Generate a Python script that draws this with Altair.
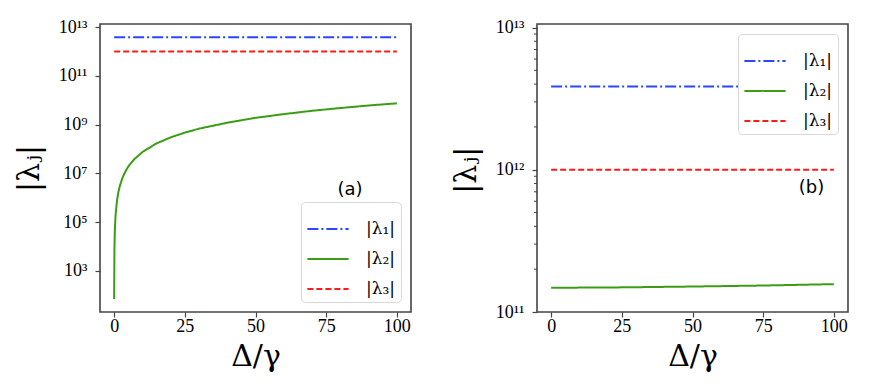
import altair as alt
import pandas as pd

# ---------------- data ----------------
series_names = ["|λ₁|", "|λ₂|", "|λ₃|"]
series_colors = ["#2a46ff", "#3a9d14", "#ff1a1a"]
series_dashes = [[11, 3, 2, 3], [1, 0], [6, 3]]

# panel (a)
a_flat_x = [0, 100]
a_lam1 = [3.9e12, 3.9e12]
a_lam3 = [1.0e12, 1.0e12]
a_lam2_x = [0, 0.1, 0.25, 0.5, 1, 1.5, 2, 3, 4, 5, 7, 10, 15, 20, 25, 30,
            40, 50, 60, 70, 80, 90, 100]
a_lam2 = [70, 7.6e3, 4.7e4, 1.9e5, 7.5e5, 1.7e6, 3.0e6, 6.8e6, 1.2e7, 1.9e7,
          3.7e7, 7.5e7, 1.7e8, 3.0e8, 4.7e8, 6.8e8, 1.2e9, 1.9e9, 2.7e9,
          3.7e9, 4.8e9, 6.1e9, 7.5e9]

# panel (b)
b_flat_x = [0, 100]
b_lam1 = [3.85e12, 3.85e12]
b_lam3 = [1.0e12, 1.0e12]
b_lam2_x = [0, 25, 50, 75, 100]
b_lam2 = [1.48e11, 1.49e11, 1.51e11, 1.535e11, 1.57e11]

x_ticks = [0, 25, 50, 75, 100]
a_y_ticks = [1e3, 1e5, 1e7, 1e9, 1e11, 1e13]
b_y_ticks = [1e11, 1e12, 1e13]
b_minor_ticks = [2e11, 3e11, 4e11, 5e11, 6e11, 7e11, 8e11, 9e11,
                 2e12, 3e12, 4e12, 5e12, 6e12, 7e12, 8e12, 9e12]
sup = {1: "¹", 3: "³", 5: "⁵", 7: "⁷", 9: "⁹", 11: "¹¹", 12: "¹²", 13: "¹³"}

ann_a = {"x": [83.4], "y": [2.0e6], "t": ["(a)"]}
ann_b = {"x": [92.1], "y": [7.47e11], "t": ["(b)"]}


def frame(x1, y1, x2, y2, x3, y3):
    rows = []
    for xx, yy in zip(x1, y1):
        rows.append({"x": xx, "y": yy, "s": series_names[0], "o": 0})
    for xx, yy in zip(x2, y2):
        rows.append({"x": xx, "y": yy, "s": series_names[1], "o": 1})
    for xx, yy in zip(x3, y3):
        rows.append({"x": xx, "y": yy, "s": series_names[2], "o": 2})
    return pd.DataFrame(rows)


df_a = frame(a_flat_x, a_lam1, a_lam2_x, a_lam2, a_flat_x, a_lam3)
df_b = frame(b_flat_x, b_lam1, b_lam2_x, b_lam2, b_flat_x, b_lam3)


def label_expr(exps):
    e = "''"
    for k in exps:
        e = f"(abs(log(datum.value)/LN10 - {k}) < 0.01 ? '10{sup[k]}' : {e})"
    return e


SERIF = "Liberation Serif"
TITLE_FONT = "DejaVu Serif"

x_axis = alt.Axis(values=x_ticks, title="Δ/γ", titleFontSize=30,
                  titleFont=TITLE_FONT, titleFontWeight="normal",
                  titlePadding=6, labelPadding=0, labelFlush=False)


def panel(df, ydomain, yrange, yticks, exps, ann, legend_orient, w, h):
    xs = alt.Scale(domain=[-5, 105], nice=False, zero=False)
    ys = alt.Scale(type="log", domain=ydomain, range=yrange, nice=False)
    y_axis = alt.Axis(values=yticks, labelExpr=label_expr(exps),
                      title="|λⱼ|", titleFontSize=30, titleFont=TITLE_FONT,
                      titleFontWeight="normal", titlePadding=14,
                      labelPadding=8)
    leg = alt.Legend(orient=legend_orient, offset=10, title=None)
    lines = alt.Chart(df).mark_line(strokeWidth=2, clip=True).encode(
        x=alt.X("x:Q", scale=xs, axis=x_axis),
        y=alt.Y("y:Q", scale=ys, axis=y_axis),
        color=alt.Color("s:N",
                        scale=alt.Scale(domain=series_names, range=series_colors),
                        legend=leg),
        strokeDash=alt.StrokeDash("s:N",
                                  scale=alt.Scale(domain=series_names,
                                                  range=series_dashes),
                                  legend=leg),
        order="o:Q",
        detail="s:N",
    )
    adf = pd.DataFrame(ann)
    txt = alt.Chart(adf).mark_text(font="DejaVu Sans", fontSize=18,
                                   color="black").encode(
        x=alt.X("x:Q", scale=xs), y=alt.Y("y:Q", scale=ys), text="t:N")
    return alt.layer(lines, txt).properties(width=w, height=h)


left = panel(df_a, [10 ** 1.31, 10 ** 13.13], [288, 0], a_y_ticks,
             [3, 5, 7, 9, 11, 13], ann_a, "bottom-right", 311, 288)

b_range = [288, 3.5]
right_main = panel(df_b, [1e11, 1e13], b_range, b_y_ticks, [11, 12, 13],
                   ann_b, "top-right", 311, 288)
minor_df = pd.DataFrame({"y": b_minor_ticks})
minor = alt.Chart(minor_df).mark_rule(color="#444", strokeWidth=1).encode(
    x=alt.value(0), x2=alt.value(-3),
    y=alt.Y("y:Q", scale=alt.Scale(type="log", domain=[1e11, 1e13],
                                   range=b_range, nice=False)))
right = alt.layer(right_main, minor).properties(width=311, height=288)

chart = alt.hconcat(left, right, spacing=38).resolve_scale(
    color="independent", strokeDash="independent", x="independent",
    y="independent"
).configure_view(
    stroke="#444", strokeWidth=1.6
).configure_axis(
    grid=False, domain=False, tickColor="#444", tickSize=5, tickWidth=1.2,
    labelFont=SERIF, labelFontSize=18, labelColor="black", titleColor="black"
).configure_legend(
    labelFont="DejaVu Serif", labelFontSize=17, labelColor="black",
    symbolType="stroke", symbolSize=1700, symbolStrokeWidth=2,
    fillColor="white", strokeColor="#d8d8d8", cornerRadius=4, padding=5,
    rowPadding=0, labelOffset=16
).properties(background="white",
             padding={"left": 5, "top": 9, "right": 5, "bottom": 5})

chart.save("out.html", embed_options={"renderer": "svg", "actions": False})
